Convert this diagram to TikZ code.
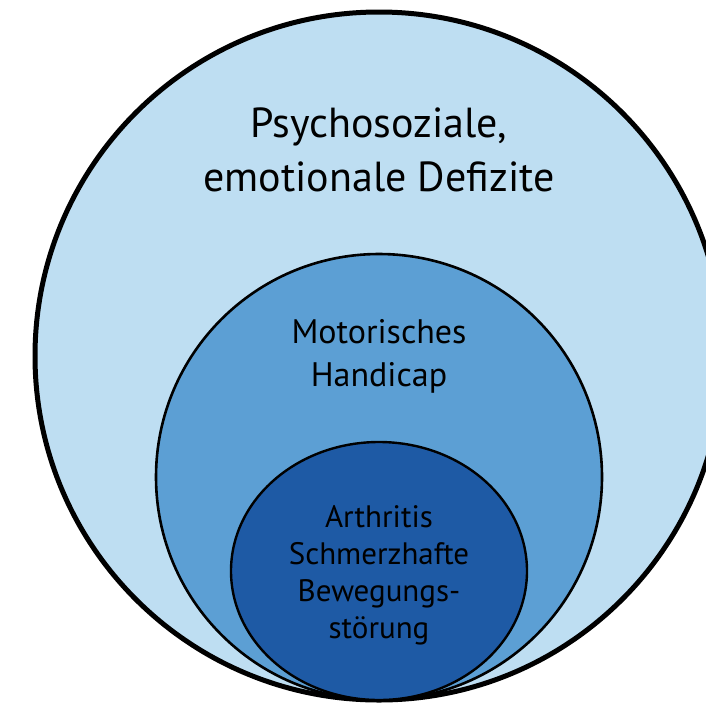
\documentclass[tikz,border=0pt]{standalone}
\usepackage{fontspec}
\setmainfont{PT Sans}
\definecolor{outerc}{RGB}{190,222,242}
\definecolor{midc}{RGB}{92,159,212}
\definecolor{innerc}{RGB}{30,90,165}
\begin{document}
\begin{tikzpicture}[x=1pt,y=-1pt,
  ring/.style={draw=black,fill=#1},
  lbl/.style={align=center,text=black,inner sep=0pt}]
\useasboundingbox (0,0) rectangle (706,702);
\clip (0,0) rectangle (706,702);
\draw[ring=outerc,line width=5pt] (379,356) circle[radius=344];
\draw[ring=midc,line width=2.6pt] (379,477) circle[radius=223];
\draw[ring=innerc,line width=2.4pt] (379,571) ellipse[x radius=148,y radius=129];
\node[lbl,font=\fontsize{42}{54}\selectfont] (t1) at (379,150) {Psychosoziale,\\emotionale Defizite};
\node[lbl,font=\fontsize{34}{43}\selectfont] (t2) at (379,356) {Motorisches\\Handicap};
\node[lbl,font=\fontsize{31}{37}\selectfont] (t3) at (379,575) {Arthritis\\Schmerzhafte\\Bewegungs-\\störung};
\end{tikzpicture}
\end{document}
